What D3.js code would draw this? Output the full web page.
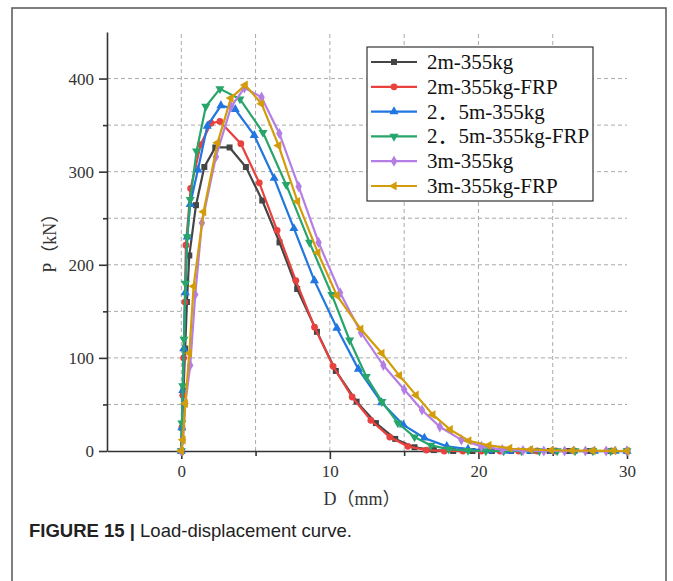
<!DOCTYPE html>
<html>
<head>
<meta charset="utf-8">
<script src="https://cdn.jsdelivr.net/npm/d3@7"></script>
<style>
  body { margin: 0; background: #fff; }
  svg { display: block; }
</style>
</head>
<body>
<div id="chart"></div>
<script>
// Load-displacement data (D in mm, P in kN)
var gray_D = [0, 0.06, 0.15, 0.26, 0.38, 0.54, 0.99, 1.55, 2.29, 3.25, 4.35, 5.45, 6.61, 7.8, 9.13, 10.4, 11.8, 13.1, 14.4, 15.7, 17, 18.3, 19.6, 20.9, 22.2, 23.5, 24.8, 26.1, 27.4, 28.7, 30];
var gray_P = [0, 25, 65, 110, 160, 210, 264, 305, 326, 326, 305, 269, 224, 174, 128, 86, 53, 30, 13, 4, 1, 0, 0, 0, 0, 0, 0, 0, 0, 0, 0];

var red_D = [0, 0.04, 0.1, 0.16, 0.24, 0.31, 0.63, 1.3, 2.0, 2.6, 4.01, 5.25, 6.45, 7.71, 8.97, 10.22, 11.5, 12.76, 14.03, 15.25, 16.5, 17.7, 18.95, 20.2, 21.45, 22.7, 23.95, 25.2, 26.45, 27.7, 28.95, 30];
var red_P = [0, 25, 60, 100, 160, 221, 282, 329, 352, 354, 330, 288, 237, 183, 133, 91, 58, 33, 15, 5, 1, 0, 0, 0, 0, 0, 0, 0, 0, 0, 0, 0];

var blue_D = [0, 0.04, 0.1, 0.17, 0.27, 0.4, 0.6, 1.12, 1.75, 2.67, 3.63, 4.91, 6.25, 7.58, 8.96, 10.47, 11.92, 13.48, 14.95, 16.36, 17.87, 19.3, 20.7, 22.1, 23.5, 25, 26.4, 27.8, 29.2, 30];
var blue_P = [0, 25, 65, 110, 170, 230, 265, 302, 349, 371, 367, 339, 293, 239, 183, 132, 88, 52, 28, 14, 5, 2, 0.5, 0, 0, 0, 0, 0, 0, 0];

var green_D = [0, 0.04, 0.1, 0.18, 0.28, 0.4, 0.6, 1.03, 1.65, 2.6, 3.95, 5.5, 7.06, 8.63, 10.13, 11.33, 12.45, 13.5, 14.58, 15.7, 16.8, 18, 19.3, 20.5, 21.7, 22.9, 24.1, 25.3, 26.5, 27.7, 28.9, 30];
var green_P = [0, 30, 70, 120, 180, 230, 270, 322, 370, 389, 378, 342, 286, 224, 168, 119, 80, 53, 30, 15, 6, 2, 0.5, 0, 0, 0, 0, 0, 0, 0, 0, 0];

var purple_D = [0, 0.11, 0.27, 0.6, 0.94, 1.39, 2.33, 3.36, 4.25, 5.4, 6.6, 7.9, 9.24, 10.69, 12.1, 13.6, 15, 16.2, 17.4, 18.85, 20.2, 21.6, 23, 24.4, 25.8, 27.2, 28.6, 30];
var purple_P = [0, 12, 51, 92, 168, 245, 316, 370, 390, 380, 341, 284, 224, 170, 127, 92, 66, 44, 26, 12, 5, 1.5, 0.5, 0, 0, 0, 0, 0];

var gold_D = [0, 0.11, 0.27, 0.54, 0.83, 1.5, 2.44, 3.34, 4.3, 5.4, 6.55, 7.82, 9.19, 10.47, 12.08, 13.5, 14.68, 15.8, 16.93, 18.1, 19.35, 20.7, 22.1, 23.5, 24.9, 26.3, 27.7, 29.1, 30];
var gold_P = [0, 12, 51, 105, 177, 257, 331, 379, 393, 373, 328, 268, 213, 167, 131, 105, 81, 60, 39, 23, 11, 6, 3, 1.5, 0.8, 0.5, 0.3, 0.2, 0];

var seriesNames = ["2m-355kg", "2m-355kg-FRP", "2．5m-355kg", "2．5m-355kg-FRP", "3m-355kg", "3m-355kg-FRP"];
var xTicks = [0, 10, 20, 30];
var xMinor = [5, 15, 25];
var yTicks = [0, 100, 200, 300, 400];
var yMinor = [50, 150, 250, 350];

var series = [
  {name: seriesNames[0], D: gray_D, P: gray_P, color: "#454545", sym: d3.symbolSquare, rot: 0},
  {name: seriesNames[1], D: red_D, P: red_P, color: "#e8413e", sym: d3.symbolCircle, rot: 0},
  {name: seriesNames[2], D: blue_D, P: blue_P, color: "#2176e0", sym: d3.symbolTriangle, rot: 0},
  {name: seriesNames[3], D: green_D, P: green_P, color: "#27a56b", sym: d3.symbolTriangle, rot: 180},
  {name: seriesNames[4], D: purple_D, P: purple_P, color: "#b47ee5", sym: d3.symbolDiamond, rot: 0},
  {name: seriesNames[5], D: gold_D, P: gold_P, color: "#d39c0a", sym: d3.symbolTriangle, rot: -90}
];

var svgWidth = 673;
var svgHeight = 581;

var svg = d3.select("#chart")
  .append("svg")
  .attr("width", svgWidth)
  .attr("height", svgHeight);

// outer frame of the figure
svg.append("rect")
  .attr("x", 12)
  .attr("y", 8)
  .attr("width", 654)
  .attr("height", 600)
  .attr("fill", "none")
  .attr("stroke", "#555")
  .attr("stroke-width", 1.5);

var x = d3.scaleLinear().domain([-5, 30]).range([107, 627]);
var y = d3.scaleLinear().domain([0, 450]).range([451, 32]);

var serif = "'Liberation Serif', 'Noto Sans CJK JP', serif";

// grid
var grid = svg.append("g")
  .attr("stroke", "#aaa")
  .attr("stroke-width", 1)
  .attr("stroke-dasharray", "4,3");

grid.selectAll(".vgrid")
  .data([0, 5, 10, 15, 20, 25])
  .enter()
  .append("line")
  .attr("x1", d => x(d))
  .attr("x2", d => x(d))
  .attr("y1", y(0))
  .attr("y2", y(450));

grid.selectAll(".hgrid")
  .data(yMinor.concat(yTicks.slice(1)))
  .enter()
  .append("line")
  .attr("x1", x(-5))
  .attr("x2", x(30))
  .attr("y1", d => y(d))
  .attr("y2", d => y(d));

// axes
svg.append("g")
  .attr("transform", `translate(0, ${y(0)})`)
  .call(d3.axisBottom(x).tickValues(xTicks).tickSize(8).tickSizeOuter(0).tickPadding(6));

svg.append("g")
  .attr("transform", `translate(0, ${y(0)})`)
  .call(d3.axisBottom(x).tickValues(xMinor).tickSize(5).tickSizeOuter(0).tickFormat(""))
  .select(".domain").remove();

svg.append("g")
  .attr("transform", `translate(${x(-5)}, 0)`)
  .call(d3.axisLeft(y).tickValues(yTicks).tickSize(8).tickSizeOuter(0).tickPadding(5));

svg.append("g")
  .attr("transform", `translate(${x(-5)}, 0)`)
  .call(d3.axisLeft(y).tickValues(yMinor).tickSize(4).tickSizeOuter(0).tickFormat(""))
  .select(".domain").remove();

svg.selectAll(".domain, .tick line")
  .attr("stroke", "#333")
  .attr("stroke-width", 1.6);

svg.selectAll(".tick text")
  .attr("font-family", serif)
  .attr("font-size", "17px")
  .attr("fill", "#333");

// curves
var line = d3.line()
  .x(d => x(d[0]))
  .y(d => y(d[1]));

series.forEach(function(s) {
  var pts = s.D.map((d, i) => [d, s.P[i]]);
  var g = svg.append("g");
  g.append("path")
    .datum(pts)
    .attr("d", line)
    .attr("fill", "none")
    .attr("stroke", s.color)
    .attr("stroke-width", 2.2);
  g.selectAll("path.mk")
    .data(pts)
    .enter()
    .append("path")
    .attr("class", "mk")
    .attr("d", d3.symbol().type(s.sym).size(36))
    .attr("transform", d => `translate(${x(d[0])}, ${y(d[1])}) rotate(${s.rot})`)
    .attr("fill", s.color);
});

// axis labels
svg.append("text")
  .attr("transform", `translate(52, ${y(228)}) rotate(-90)`)
  .attr("text-anchor", "middle")
  .attr("dominant-baseline", "middle")
  .attr("font-family", serif)
  .attr("font-size", "18px")
  .attr("fill", "#333")
  .text("P（kN）");

svg.append("text")
  .attr("x", 362)
  .attr("y", 501)
  .attr("text-anchor", "middle")
  .attr("dominant-baseline", "middle")
  .attr("font-family", serif)
  .attr("font-size", "18px")
  .attr("fill", "#333")
  .text("D（mm）");

// legend
var legend = svg.append("g");
legend.append("rect")
  .attr("x", 367)
  .attr("y", 47)
  .attr("width", 226)
  .attr("height", 154)
  .attr("fill", "#fff")
  .attr("stroke", "#333")
  .attr("stroke-width", 1.2);

var rows = legend.selectAll(".row")
  .data(series)
  .enter()
  .append("g")
  .attr("transform", (d, i) => `translate(0, ${62 + i * 24.8})`);

rows.append("line")
  .attr("x1", 371)
  .attr("x2", 417)
  .attr("stroke", d => d.color)
  .attr("stroke-width", 2.2);

rows.append("path")
  .attr("d", d => d3.symbol().type(d.sym).size(36)())
  .attr("transform", d => `translate(394, 0) rotate(${d.rot})`)
  .attr("fill", d => d.color);

rows.append("text")
  .attr("x", 427)
  .attr("dominant-baseline", "central")
  .attr("font-family", serif)
  .attr("font-size", "21px")
  .attr("fill", "#111")
  .text(d => d.name);

// caption
var cap = svg.append("text")
  .attr("x", 29)
  .attr("y", 537)
  .attr("font-family", "'Liberation Sans', Arial, sans-serif")
  .attr("font-size", "18.5px")
  .attr("fill", "#222");
cap.append("tspan").attr("font-weight", "bold").text("FIGURE 15 | ");
cap.append("tspan").text("Load-displacement curve.");
</script>
</body>
</html>
